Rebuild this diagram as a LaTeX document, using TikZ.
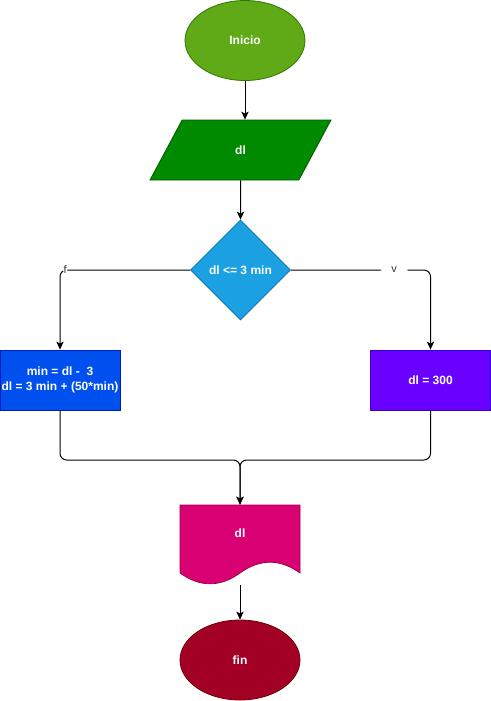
\documentclass[tikz,border=0pt]{standalone}
\usepackage{fontspec}
\setmainfont{Liberation Sans}
\usepackage{tikz}
\usetikzlibrary{arrows.meta,positioning,shapes.geometric,calc}
\definecolor{StartFill}{HTML}{60A917}
\definecolor{StartLine}{HTML}{2D7600}
\definecolor{InFill}{HTML}{008A00}
\definecolor{InLine}{HTML}{005700}
\definecolor{DecFill}{HTML}{1BA1E2}
\definecolor{DecLine}{HTML}{006EAF}
\definecolor{CalcFill}{HTML}{0050EF}
\definecolor{CalcLine}{HTML}{001DBC}
\definecolor{SetFill}{HTML}{6A00FF}
\definecolor{SetLine}{HTML}{3700CC}
\definecolor{OutFill}{HTML}{D80073}
\definecolor{OutLine}{HTML}{A50040}
\definecolor{StopFill}{HTML}{A20025}
\definecolor{StopLine}{HTML}{6F0000}

\begin{document}
\begin{tikzpicture}[x=0.75pt,y=-0.75pt,
  font=\fontsize{9}{11.25}\selectfont\bfseries,
  box/.style={text=white,align=center,inner sep=0pt,line width=0.6pt},
  term/.style={box,ellipse,minimum width=90pt,minimum height=60pt},
  arr/.style={draw=black,line width=0.75pt,-{Stealth[length=6pt,width=5.5pt,inset=1.5pt]}},
  lbl/.style={fill=white,text=black!80,font=\fontsize{8.25}{10}\selectfont,inner ysep=1pt}]
\useasboundingbox (0,0) rectangle (491,701);
% nodes
\node[term,fill=StartFill,draw=StartLine] (start) at (245,40.5) {Inicio};
\node[box,trapezium,trapezium left angle=71.57,trapezium right angle=108.43,
  trapezium stretches=true,minimum width=135.75pt,minimum height=45pt,
  fill=InFill,draw=InLine] (in) at (240.5,150) {dl};
\node[box,diamond,minimum width=75pt,minimum height=75pt,
  fill=DecFill,draw=DecLine] (dec) at (240.5,270) {dl <= 3 min};
\node[box,rectangle,minimum width=90pt,minimum height=45pt,
  fill=CalcFill,draw=CalcLine] (calc) at (60,380) {min = dl -\ \ 3\\dl = 3 min + (50*min)};
\node[box,rectangle,minimum width=90pt,minimum height=45pt,
  fill=SetFill,draw=SetLine] (set) at (430.5,380) {dl = 300};
% document shape
\node[box,rectangle,minimum width=90pt,minimum height=60pt] (out) at (240,545) {};
\filldraw[fill=OutFill,draw=OutLine,line width=0.6pt] (180,505) -- (300,505) -- (300,573)
  .. controls (280,558.6) and (260,558.6) .. (240,573)
  .. controls (220,587.4) and (200,587.4) .. (180,573) -- cycle;
\node[box] (outtxt) at (240,533) {dl};
\node[term,fill=StopFill,draw=StopLine] (stop) at (240,660) {fin};
% connectors
\draw[arr] (start.south) -- (start.south |- in.north);
\draw[arr] (in.south) -- (dec.north);
\draw[arr,rounded corners=5pt] (dec.west) -| node[lbl,pos=0.48,inner xsep=0.5pt] {f} (calc.north);
\draw[arr,rounded corners=5pt] (dec.east) -| node[lbl,pos=0.37,inner xsep=8pt] {v} (set.north);
\coordinate (mrg) at (240,460);
\draw[arr,rounded corners=5pt] (calc.south) |- (mrg) -- (out.north);
\draw[arr,rounded corners=5pt] (set.south) |- (mrg) -- (out.north);
\draw[arr] (out.south) -- (stop.north);
\end{tikzpicture}
\end{document}
